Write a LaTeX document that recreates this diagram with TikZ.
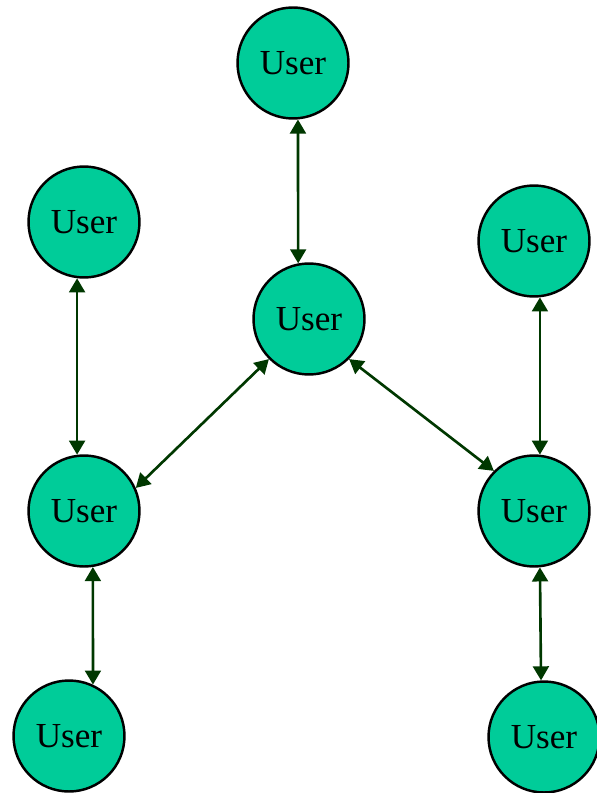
\documentclass[tikz,border=0pt]{standalone}
\usepackage{fontspec}
\setmainfont{Liberation Serif}
\usetikzlibrary{arrows.meta}
\definecolor{userfill}{RGB}{0,204,153}
\definecolor{linkgreen}{RGB}{0,56,0}

\begin{document}
\begin{tikzpicture}[x=0.02cm, y=-0.02cm,
    user/.style={circle, draw, line width=1.4pt, fill=userfill,
        minimum size=2.22cm, inner sep=0pt, text depth=0pt,
        font=\fontsize{20}{22}\selectfont},
    link/.style={{Triangle[length=8pt,width=9pt]}-{Triangle[length=8pt,width=9pt]},
        draw=linkgreen, fill=linkgreen, line width=1.5pt}]
    \useasboundingbox (0,0) rectangle (597,793);
    \node[user] (top) at (293, 63) {User};
    \node[user] (hub) at (309, 319) {User};
    \node[user] (lu) at (84, 222) {User};
    \node[user] (ru) at (534, 241) {User};
    \node[user] (lm) at (84, 511) {User};
    \node[user] (rm) at (534, 511) {User};
    \node[user] (lb) at (69, 736) {User};
    \node[user] (rb) at (544, 737) {User};
    \draw[link] (top.-85) -- (hub.101);
    \draw[link] (hub.225) -- (lm.24);
    \draw[link] (hub.-45) -- (rm.135);
    \draw[link] (lu.263) -- (lm.97);
    \draw[link] (lm.-81) -- (lb.65);
    \draw[link] (ru.-84) -- (rm.84);
    \draw[link] (rm.-84) -- (rb.93);
\end{tikzpicture}
\end{document}
